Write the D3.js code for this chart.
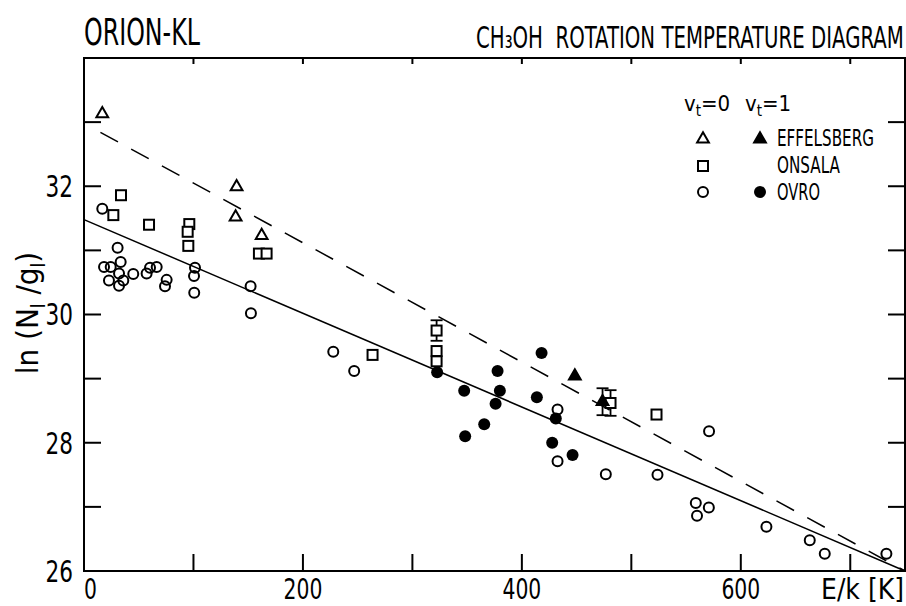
<!DOCTYPE html>
<html>
<head>
<meta charset="utf-8">
<script src="https://cdn.jsdelivr.net/npm/d3@7"></script>
<style>
  body { margin: 0; background: #fff; }
  svg text { font-family: "DejaVu Sans Condensed", "DejaVu Sans", sans-serif; fill: #000; white-space: pre; }
</style>
</head>
<body>
<svg id="chart" width="906" height="606"></svg>
<script>
// E/k [K], ln(N/g)
const effelsbergV0 = [[16.7, 33.13], [139.4, 31.99], [138.5, 31.52], [162.3, 31.23]];
const effelsbergV1 = [[448.4, 29.04], [473.7, 28.64]];
const onsalaV0 = [
  [33.8, 31.86], [26.8, 31.55], [59.4, 31.40], [96.2, 31.41], [94.7, 31.29], [95.3, 31.07],
  [159.8, 30.95], [166.8, 30.95], [263.6, 29.37], [322.1, 29.75], [322.1, 29.43], [322.1, 29.27],
  [481, 28.62], [523, 28.44]
];
const ovroV0 = [
  [16.7, 31.65], [30.7, 31.04], [18.3, 30.74], [24.4, 30.74], [33.5, 30.82], [32, 30.64],
  [22.8, 30.53], [35.9, 30.53], [32, 30.45], [45, 30.63], [57.2, 30.64], [60.3, 30.73],
  [66.4, 30.74], [75.5, 30.54], [74, 30.44], [101.4, 30.73], [100.5, 30.6], [100.7, 30.34],
  [152.2, 30.44], [152.5, 30.02], [227.7, 29.42], [246.8, 29.12], [432.6, 28.52], [432.6, 27.71],
  [476.7, 27.51], [571, 28.18], [523.9, 27.5], [558.9, 27.06], [570.8, 26.99], [560, 26.86],
  [623.4, 26.69], [663, 26.48], [676.7, 26.27], [733, 26.27]
];
const ovroV1 = [
  [322.6, 29.10], [347.3, 28.81], [348.2, 28.10], [365.6, 28.29], [377.8, 29.12], [379.9, 28.81],
  [376, 28.61], [418, 29.40], [413.7, 28.71], [431, 28.38], [427.7, 28.0], [446.3, 27.81]
];
// error bars: [E/k, ln(N/g), half-length]
const errorBars = [[322.1, 29.75, 0.16], [473.7, 28.64, 0.21], [481, 28.62, 0.2]];
// fitted lines
const fitSolid = [[0, 31.48], [750, 26.0]];
const fitDashed = [[15, 32.84], [750, 26.0]];

const xTicks = [100, 200, 300, 400, 500, 600, 700];
const xLabels = [0, 200, 400, 600];
const yTicks = [27, 28, 29, 30, 31, 32, 33];
const yLabels = [26, 28, 30, 32];

const svg = d3.select("#chart");
const margin = { top: 58, right: 1, bottom: 35, left: 84 };
const W = 906, H = 606;

const x = d3.scaleLinear().domain([0, 750]).range([margin.left, W - margin.right]);
const y = d3.scaleLinear().domain([26, 34]).range([H - margin.bottom, margin.top]);

const tickLen = 17;

// squeeze a text horizontally to a given width, anchored at its start x
function fitWidth(t, x0, w) {
  const len = t.node().getComputedTextLength();
  t.attr("transform", `translate(${x0},0) scale(${w / len},1) translate(${-x0},0)`);
  return t;
}

// frame
svg.append("rect")
  .attr("x", x(0)).attr("y", y(34))
  .attr("width", x(750) - x(0)).attr("height", y(26) - y(34))
  .attr("fill", "none").attr("stroke", "#000").attr("stroke-width", 2);

// ticks, pointing inward
const tg = svg.append("g").attr("stroke", "#000").attr("stroke-width", 2);
xTicks.forEach(t => {
  tg.append("line").attr("x1", x(t)).attr("x2", x(t)).attr("y1", y(26)).attr("y2", y(26) - tickLen);
  tg.append("line").attr("x1", x(t)).attr("x2", x(t)).attr("y1", y(34)).attr("y2", y(34) + 6);
});
yTicks.forEach(t => {
  tg.append("line").attr("x1", x(0)).attr("x2", x(0) + tickLen).attr("y1", y(t)).attr("y2", y(t));
  tg.append("line").attr("x1", x(750)).attr("x2", x(750) - tickLen).attr("y1", y(t)).attr("y2", y(t));
});

// tick labels
svg.append("g").selectAll("text").data(xLabels).join("text")
  .attr("x", d => x(d)).attr("y", 599)
  .attr("text-anchor", d => d === 0 ? "start" : "middle")
  .attr("font-size", 29)
  .attr("transform", d => `translate(${x(d)},0) scale(0.78,1) translate(${-x(d)},0)`)
  .text(d => d);

svg.append("g").selectAll("text").data(yLabels).join("text")
  .attr("x", 73).attr("y", d => y(d) + 11)
  .attr("text-anchor", "end")
  .attr("font-size", 30)
  .attr("transform", "translate(73,0) scale(0.8,1) translate(-73,0)")
  .text(d => d);

fitWidth(svg.append("text").attr("x", 821).attr("y", 599).attr("font-size", 29).text("E/k [K]"), 821, 83);

// y axis title
const yt = svg.append("text")
  .attr("transform", "translate(38,313) rotate(-90)")
  .attr("text-anchor", "middle")
  .attr("font-size", 31);
yt.append("tspan").text("ln (N");
yt.append("tspan").attr("font-size", 19).attr("dy", 7).text("l");
yt.append("tspan").attr("dy", -7).text(" /g");
yt.append("tspan").attr("font-size", 19).attr("dy", 7).text("l");
yt.append("tspan").attr("dy", -7).text(")");

// titles
fitWidth(svg.append("text").attr("x", 84).attr("y", 45).attr("font-size", 38).text("ORION-KL"), 84, 116);
fitWidth(svg.append("text").attr("x", 476).attr("y", 48).attr("font-size", 30)
  .text("CH\u2083OH  ROTATION TEMPERATURE DIAGRAM"), 476, 428);

// fitted lines
const line = d3.line().x(d => x(d[0])).y(d => y(d[1]));
svg.append("path").datum(fitSolid).attr("d", line)
  .attr("fill", "none").attr("stroke", "#000").attr("stroke-width", 1.5);
svg.append("path").datum(fitDashed).attr("d", line)
  .attr("fill", "none").attr("stroke", "#000").attr("stroke-width", 1.5)
  .attr("stroke-dasharray", "20,15");

// error bars
const eg = svg.append("g").attr("stroke", "#000").attr("stroke-width", 1.8);
errorBars.forEach(([ex, ey, ee]) => {
  eg.append("line").attr("x1", x(ex)).attr("x2", x(ex)).attr("y1", y(ey + ee)).attr("y2", y(ey - ee));
  [ey + ee, ey - ee].forEach(v => {
    eg.append("line").attr("x1", x(ex) - 6).attr("x2", x(ex) + 6).attr("y1", y(v)).attr("y2", y(v));
  });
});

// markers
const tri = d3.symbol().type(d3.symbolTriangle).size(60);
function triangles(data, filled) {
  svg.append("g").selectAll("path").data(data).join("path")
    .attr("d", tri)
    .attr("transform", d => `translate(${x(d[0])},${y(d[1])})`)
    .attr("fill", filled ? "#000" : "#fff").attr("stroke", "#000").attr("stroke-width", 2);
}
function squares(data) {
  svg.append("g").selectAll("rect").data(data).join("rect")
    .attr("x", d => x(d[0]) - 5).attr("y", d => y(d[1]) - 5)
    .attr("width", 10).attr("height", 10)
    .attr("fill", "#fff").attr("stroke", "#000").attr("stroke-width", 2);
}
function circles(data, filled) {
  svg.append("g").selectAll("circle").data(data).join("circle")
    .attr("cx", d => x(d[0])).attr("cy", d => y(d[1]))
    .attr("r", filled ? 6 : 5)
    .attr("fill", filled ? "#000" : "none").attr("stroke", "#000").attr("stroke-width", filled ? 0 : 2);
}
circles(ovroV0, false);
circles(ovroV1, true);
squares(onsalaV0);
triangles(effelsbergV0, false);
triangles(effelsbergV1, true);

// legend
const lg = svg.append("g");
const lx0 = 703, lx1 = 760, ltx = 777;
const hdr = (xp, label) => {
  const t = lg.append("text").attr("x", xp).attr("y", 111).attr("font-size", 22);
  t.append("tspan").text("v");
  t.append("tspan").attr("font-size", 15).attr("dy", 5).text("t");
  t.append("tspan").attr("dy", -5).text(label);
};
hdr(684, "=0");
hdr(745, "=1");

lg.append("path").attr("d", tri).attr("transform", `translate(${lx0},139)`)
  .attr("fill", "#fff").attr("stroke", "#000").attr("stroke-width", 2);
lg.append("path").attr("d", tri).attr("transform", `translate(${lx1},139)`)
  .attr("fill", "#000").attr("stroke", "#000").attr("stroke-width", 2);
lg.append("rect").attr("x", lx0 - 5).attr("y", 161).attr("width", 10).attr("height", 10)
  .attr("fill", "#fff").attr("stroke", "#000").attr("stroke-width", 2);
lg.append("circle").attr("cx", lx0).attr("cy", 192).attr("r", 5)
  .attr("fill", "none").attr("stroke", "#000").attr("stroke-width", 2);
lg.append("circle").attr("cx", lx1).attr("cy", 192).attr("r", 6).attr("fill", "#000");

[["EFFELSBERG", 146, 97], ["ONSALA", 173, 63], ["OVRO", 200, 43]].forEach(([s, yy, len]) => {
  fitWidth(lg.append("text").attr("x", ltx).attr("y", yy).attr("font-size", 23).text(s), ltx, len);
});
</script>
</body>
</html>
